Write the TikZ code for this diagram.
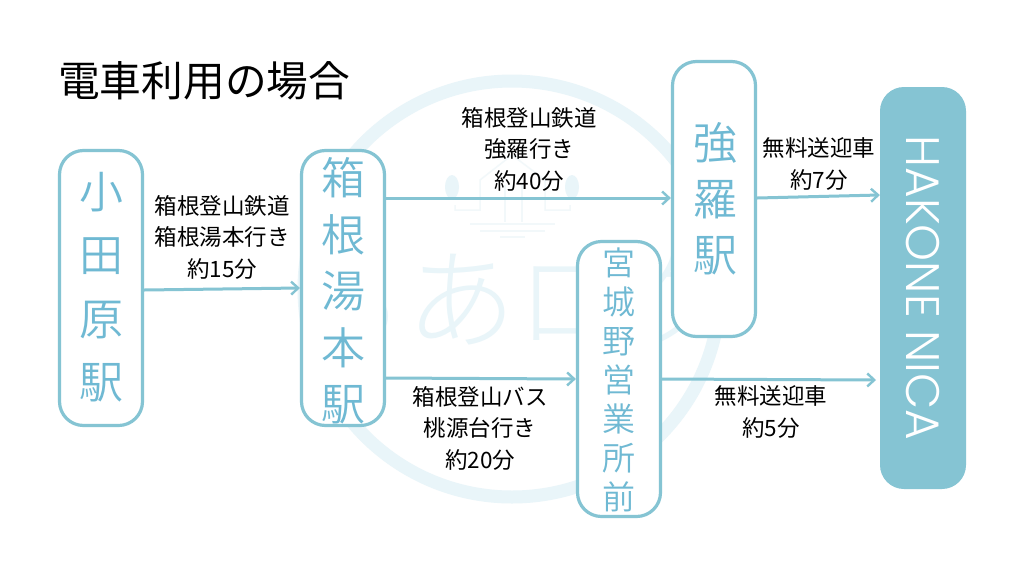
\documentclass[tikz,border=0pt]{standalone}
\usepackage{fontspec}
\setmainfont{Noto Sans CJK JP}
\newfontfamily\jpthin{Noto Sans CJK JP DemiLight}
\newfontfamily\jplight{Noto Sans CJK JP Light}
\newfontfamily\latn{Poppins Light}
\usetikzlibrary{arrows.meta}
\definecolor{teal1}{HTML}{85C4D3}
\definecolor{tealtxt}{HTML}{6FB9D3}
\definecolor{wm}{HTML}{E9F5F9}
\definecolor{wmfaint}{HTML}{F2F8FA}
\tikzset{x=1pt,y=-1pt,
  stationbox/.style={draw=teal1,line width=3.2pt,rounded corners=24pt,fill=white,inner sep=0pt},
  linkline/.style={draw=teal1,line width=3pt,-{Straight Barb[length=7pt,width=13pt,line width=2.4pt]}},
  lab/.style={align=center,font=\fontsize{22.5}{31.5}\selectfont,text=black},
  vert/.style={text=tealtxt,align=center,inner sep=0pt}}
\begin{document}
\begin{tikzpicture}
\useasboundingbox (0,0) rectangle (1024,576);
\fill[white] (0,0) rectangle (1024,576);
% watermark
\node[draw=wm,line width=13pt,circle,minimum size=416pt,inner sep=0pt] (mark) at (512,289) {};
\node[text=wm,font=\jplight\fontsize{110}{110}\selectfont] (marktext) at (516,298) {ちあログ};
\fill[wm] (452,187) ellipse (7 and 12);
\fill[wm] (572,187) ellipse (7 and 12);
\draw[wmfaint,line width=1.5pt] (455,205) -- (455,210) -- (480,210) -- (480,180) -- (512,155) -- (545,180) -- (545,210) -- (570,210) -- (570,205);
\draw[wmfaint,line width=1.5pt] (505,185) -- (505,222) (522,185) -- (522,222);
\draw[wmfaint,line width=1.5pt] (470,224) -- (555,224) (480,231) -- (545,231) (500,237) -- (525,237);
% boxes
\node[stationbox,minimum width=83pt,minimum height=275pt] (odawara) at (101,288) {};
\node[stationbox,minimum width=83pt,minimum height=275pt] (yumoto) at (343,288) {};
\node[stationbox,minimum width=83pt,minimum height=275pt] (gora) at (714,199) {};
\node[stationbox,minimum width=83pt,minimum height=275pt] (miyagino) at (619,379) {};
\node[fill=teal1,rounded corners=24pt,minimum width=86pt,minimum height=402pt,inner sep=0pt] (nica) at (923,288) {};
% box text
\node[vert,font=\jpthin\fontsize{44}{63.5}\selectfont] (t1) at (101,287) {小\\田\\原\\駅};
\node[vert,font=\jpthin\fontsize{44}{56.5}\selectfont] (t2) at (343,291) {箱\\根\\湯\\本\\駅};
\node[vert,font=\jpthin\fontsize{44}{56}\selectfont] (t3) at (715,199) {強\\羅\\駅};
\node[vert,font=\jpthin\fontsize{33}{39}\selectfont] (t4) at (619,380) {宮\\城\\野\\営\\業\\所\\前};
\node[text=white,rotate=-90,font=\latn\fontsize{47}{47}\selectfont] (t5) at (923,288) {HAKONE NICA};
% title
\node[anchor=west,font=\fontsize{41.7}{41.7}\selectfont,inner sep=0pt] (title) at (58,81) {電車利用の場合};
% connectors
\draw[linkline] (odawara.east |- 0,290) -- (yumoto.west |- 0,288);
\draw[linkline] (yumoto.east |- 0,198) -- (gora.west |- 0,198);
\draw[linkline] (yumoto.east |- 0,378) -- (miyagino.west |- 0,379);
\draw[linkline] (gora.east |- 0,198) -- (nica.west |- 0,195);
\draw[linkline] (miyagino.east |- 0,379) -- (876,380);
% labels
\node[lab] (l1) at (222,237) {箱根登山鉄道\\箱根湯本行き\\約15分};
\node[lab] (l2) at (529,149) {箱根登山鉄道\\強羅行き\\約40分};
\node[lab] (l3) at (480,428) {箱根登山バス\\桃源台行き\\約20分};
\node[lab] (l4) at (819,164) {無料送迎車\\約7分};
\node[lab] (l5) at (771,412) {無料送迎車\\約5分};
\end{tikzpicture}
\end{document}
